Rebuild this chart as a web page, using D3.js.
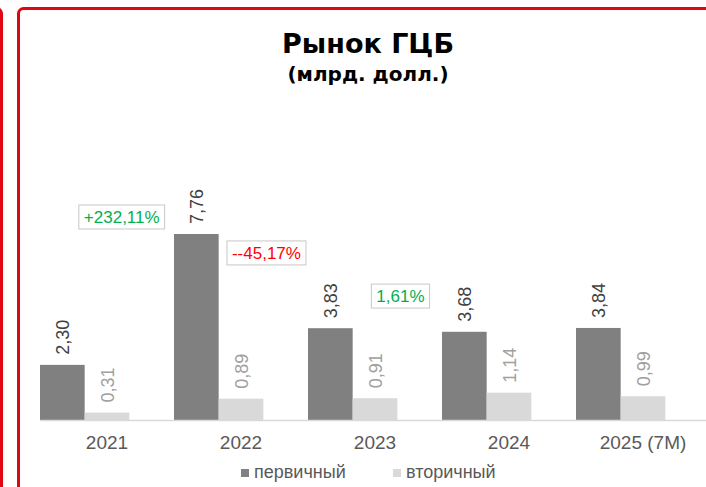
<!DOCTYPE html>
<html>
<head>
<meta charset="utf-8">
<script src="https://cdn.jsdelivr.net/npm/d3@7"></script>
<style>
  body { margin: 0; background: #fff; }
  svg { display: block; font-family: "Liberation Sans", Arial, sans-serif; }
</style>
</head>
<body>
<svg id="chart"></svg>
<script>
let w = 706;
let h = 487;

// data
const years = ['2021', '2022', '2023', '2024', '2025 (7M)'];
const primary = [2.30, 7.76, 3.83, 3.68, 3.84];
const secondary = [0.31, 0.89, 0.91, 1.14, 0.99];
const changes = ['+232,11%', '--45,17%', '1,61%'];
const changeColors = ['#00b050', '#ff0000', '#00b050'];
// where the change boxes sit: year band + fraction, and value level
const changeYear = ['2021', '2022', '2023'];
const changeFrac = [0.61, 0.69, 0.69];
const changeLevel = [8.47, 6.97, 5.17];
const seriesNames = ['первичный', 'вторичный'];
const colors = ['#808080', '#d9d9d9'];

const fmt = v => v.toFixed(2).replace('.', ',');

function createGraph() {
    const chart = d3.select('#chart')
        .attr('width', w)
        .attr('height', h);

    // red frames
    chart.append('rect')
        .attr('x', -30).attr('y', 8.5)
        .attr('width', 31.5).attr('height', 600)
        .attr('rx', 5)
        .style('fill', 'none')
        .style('stroke', '#e20613')
        .style('stroke-width', 3);

    chart.append('rect')
        .attr('x', 18.5).attr('y', 8.5)
        .attr('width', 800).attr('height', 600)
        .attr('rx', 5)
        .style('fill', '#fff')
        .style('stroke', '#e20613')
        .style('stroke-width', 3);

    // title
    chart.append('text')
        .attr('x', 368).attr('y', 53)
        .attr('text-anchor', 'middle')
        .style('font-family', '"DejaVu Sans", sans-serif')
        .style('font-weight', 'bold')
        .style('font-size', '27px')
        .style('fill', '#000')
        .text('Рынок ГЦБ');
    chart.append('text')
        .attr('x', 368).attr('y', 81)
        .attr('text-anchor', 'middle')
        .style('font-family', '"DejaVu Sans", sans-serif')
        .style('font-weight', 'bold')
        .style('font-size', '20px')
        .style('fill', '#000')
        .text('(млрд. долл.)');

    const x = d3.scaleBand()
        .domain(years)
        .range([40, 710])
        .padding(0);

    // 3 slots per year, the third one is empty
    const xs = d3.scaleBand()
        .domain([0, 1, 2])
        .range([0, x.bandwidth()]);

    const y = d3.scaleLinear()
        .domain([0, 10])
        .range([420, 180.3]);

    const series = [primary, secondary];
    const labelColors = ['#404040', '#a0a0a0'];

    series.forEach((vals, s) => {
        chart.append('g').selectAll('rect')
            .data(vals)
            .enter()
            .append('rect')
            .attr('x', (d, i) => x(years[i]) + xs(s))
            .attr('y', d => y(d))
            .attr('width', xs.bandwidth())
            .attr('height', d => y(0) - y(d))
            .style('fill', colors[s]);

        chart.append('g').selectAll('text')
            .data(vals)
            .enter()
            .append('text')
            .attr('transform', (d, i) => {
                const cx = x(years[i]) + xs(s) + xs.bandwidth() / 2 + 7;
                return `translate(${cx},${y(d) - 10}) rotate(-90)`;
            })
            .style('font-size', '18px')
            .style('fill', labelColors[s])
            .text(d => fmt(d));
    });

    // axis
    const axis = chart.append('g')
        .attr('transform', `translate(0,${y(0)})`)
        .call(d3.axisBottom(x).tickSize(0).tickPadding(16));
    axis.select('.domain').style('stroke', '#d9d9d9').style('stroke-width', 1.5);
    axis.selectAll('text')
        .style('font-family', '"Liberation Sans", Arial, sans-serif')
        .style('font-size', '19px')
        .style('fill', '#595959');

    // change boxes
    changes.forEach((t, i) => {
        const cx = x(changeYear[i]) + changeFrac[i] * x.bandwidth();
        const cy = y(changeLevel[i]);
        const g = chart.append('g');
        const txt = g.append('text')
            .attr('x', cx).attr('y', cy + 6)
            .attr('text-anchor', 'middle')
            .style('font-size', '17px')
            .style('fill', changeColors[i])
            .text(t);
        const bb = txt.node().getBBox();
        g.insert('rect', 'text')
            .attr('x', bb.x - 5).attr('y', cy - 12)
            .attr('width', bb.width + 10).attr('height', 24)
            .style('fill', '#fff')
            .style('stroke', '#c8c8c8')
            .style('stroke-width', 1);
    });

    // legend
    const legX = [241, 393];
    seriesNames.forEach((n, i) => {
        chart.append('rect')
            .attr('x', legX[i]).attr('y', 469)
            .attr('width', 8).attr('height', 8)
            .style('fill', colors[i]);
        chart.append('text')
            .attr('x', legX[i] + 13).attr('y', 478)
            .style('font-size', '18px')
            .style('fill', '#595959')
            .text(n);
    });
}

createGraph();
</script>
</body>
</html>
